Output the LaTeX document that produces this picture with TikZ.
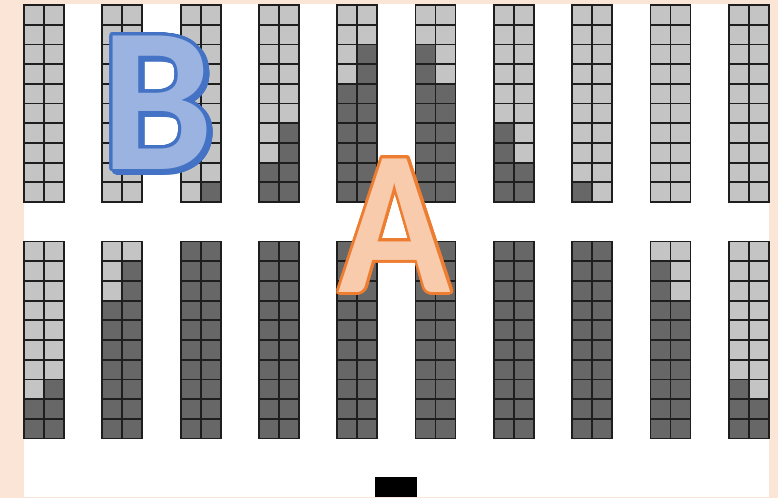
\documentclass[tikz,border=0pt]{standalone}
\usepackage{fontspec}
\usepackage{contour}
\newfontfamily\letterfont{Carlito}
\definecolor{peach}{HTML}{FBE5D6}
\definecolor{seatlight}{HTML}{C4C4C4}
\definecolor{seatdark}{HTML}{676767}
\definecolor{seatline}{HTML}{1E1E1E}
\definecolor{bblue}{HTML}{4472C4}
\definecolor{bfill}{HTML}{9BB3E0}
\definecolor{aorange}{HTML}{ED7D31}
\definecolor{apale}{HTML}{F8CBAD}
\contournumber{32}
\contourlength{3pt}
\tikzset{seat/.style={draw=seatline,line width=1.8pt},
  bigletter/.style={inner sep=0pt,anchor=base,
    font=\letterfont\bfseries\fontsize{206}{206}\selectfont}}
\begin{document}
\begin{tikzpicture}[x=1pt,y=-1pt]
\useasboundingbox (0,0) rectangle (778,498);
\fill[peach] (0,0) rectangle (778,498);
\fill[white] (24,4) rectangle (769,497);
% first dark row of each half column: upper block, lower block
\foreach \col/\upL/\upR/\loL/\loR in {1/11/11/9/8,2/11/11/4/2,3/11/10/1/1,
  4/9/7/1/1,5/5/3/1/1,6/3/5/1/1,7/7/9/1/1,8/10/11/1/1,9/11/11/2/4,10/11/11/8/9}{
  \pgfmathsetmacro{\xl}{24+(\col-1)*78.3}
  \foreach \ytop/\lstart/\rstart in {5/\upL/\upR,241.5/\loL/\loR}{
    \foreach \r in {1,...,10}{
      \pgfmathsetmacro{\yc}{\ytop+(\r-1)*19.7}
      \ifnum\r<\lstart\relax\def\cellcol{seatlight}\else\def\cellcol{seatdark}\fi
      \filldraw[seat,fill=\cellcol] (\xl,\yc) rectangle ++(20,19.7);
      \ifnum\r<\rstart\relax\def\cellcol{seatlight}\else\def\cellcol{seatdark}\fi
      \filldraw[seat,fill=\cellcol] (\xl+20,\yc) rectangle ++(20,19.7);
    }
  }
}
\fill[black] (375,477) rectangle (417,497);
\node[bigletter,text=bblue] (bshade) at (160.5,172) {\scalebox{0.97}[1]{\contour{bblue}{B}}};
\node[bigletter,text=bfill] (bletter) at (157.5,169) {\scalebox{0.97}[1]{\contour{bblue}{B}}};
\node[bigletter,text=apale] (aletter) at (395,292) {\scalebox{0.9}[1]{\contour{aorange}{A}}};
\end{tikzpicture}
\end{document}
